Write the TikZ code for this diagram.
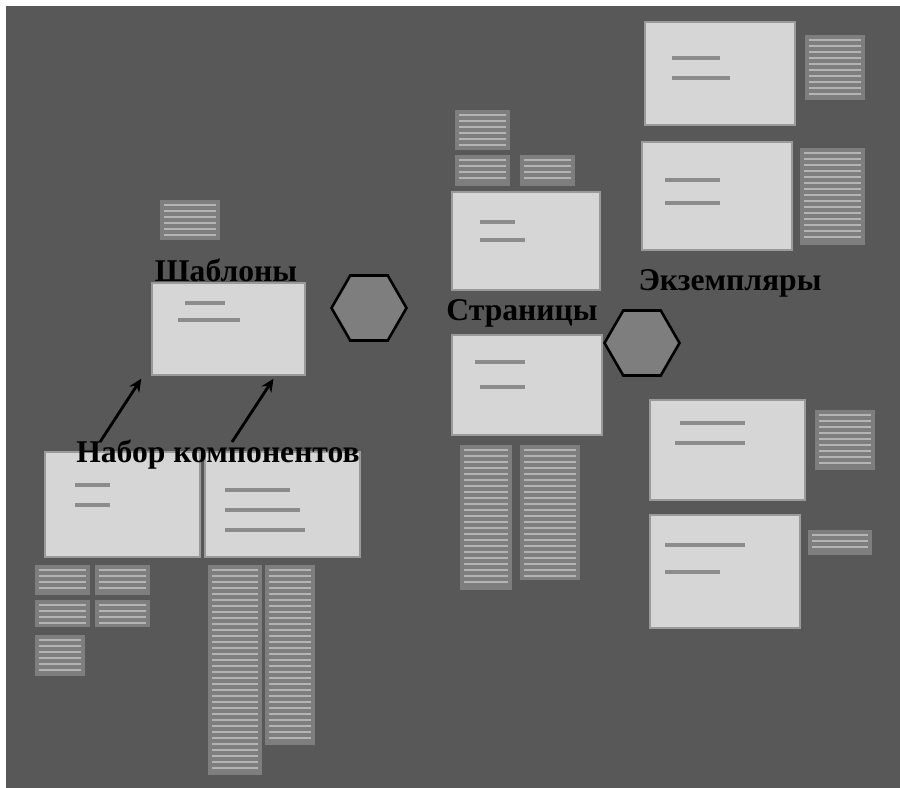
\documentclass[tikz,border=0pt]{standalone}
\usepackage{fontspec}
\setmainfont{Liberation Serif}
\usetikzlibrary{fit,shapes.geometric,arrows.meta,calc}
\definecolor{bgc}{HTML}{585858}
\definecolor{boxc}{HTML}{D6D6D6}
\definecolor{boxedge}{HTML}{9A9A9A}
\definecolor{stripc}{HTML}{7E7E7E}
\definecolor{stripl}{HTML}{B4B4B4}
\definecolor{barc}{HTML}{8C8C8C}
\newcommand\stripeblk[4]{%
  \fill[stripc] (#1,#2) rectangle (#3,#4);
  \pgfmathsetmacro\stA{#2+5}\pgfmathsetmacro\stB{#2+11}\pgfmathsetmacro\stE{#4-3}%
  \foreach \yy in {\stA,\stB,...,\stE} \draw[stripl,line width=2.2pt] (#1+4,\yy) -- (#3-4,\yy);
}
\tikzset{
  bigbox/.style={draw=boxedge,line width=1.2pt,fill=boxc,inner sep=0pt},
  lbl/.style={font=\bfseries\fontsize{27}{30}\selectfont,text=black,inner sep=1pt},
  hexa/.style={regular polygon,regular polygon sides=6,minimum size=2.25cm,draw=black,line width=2.2pt,fill=stripc,inner sep=0pt},
  txtbar/.style={barc,line width=3.5pt},
  uparrow/.style={-{Stealth[length=11pt,width=10pt]},line width=2.4pt,black}
}
\begin{document}
\begin{tikzpicture}[x=0.03cm,y=-0.03cm]
\useasboundingbox (0,0) rectangle (900,788);
\fill[white] (0,0) rectangle (900,788);
\fill[bgc] (6,6) rectangle (900,788);

% ---------- left section ----------
\stripeblk{160}{200}{220}{240}
\node[bigbox,fit={(152,283) (305,375)}] (boxA) {};
\draw[txtbar] (185,303) -- (225,303);
\draw[txtbar] (178,320) -- (240,320);
\node[lbl] (lblA) at (226,270) {Шаблоны};

\node[hexa] (hexA) at (369,308) {};

\node[bigbox,fit={(45,452) (200,557)}] (boxB) {};
\node[bigbox,fit={(205,452) (360,557)}] (boxC) {};
\draw[txtbar] (75,485) -- (110,485);
\draw[txtbar] (75,505) -- (110,505);
\draw[txtbar] (225,490) -- (290,490);
\draw[txtbar] (225,510) -- (300,510);
\draw[txtbar] (225,530) -- (305,530);
\node[lbl] (lblB) at (218,455) {Набор компонентов};

\coordinate (a1s) at (100,442);
\coordinate (a1e) at ($(boxA.south west)+(-10,3)$);
\coordinate (a2s) at (232,442);
\coordinate (a2e) at ($(boxA.south)+(45,3)$);
\draw[uparrow] (a1s) -- (a1e);
\draw[uparrow] (a2s) -- (a2e);

\stripeblk{35}{565}{90}{595}
\stripeblk{95}{565}{150}{595}
\stripeblk{35}{600}{90}{627}
\stripeblk{95}{600}{150}{627}
\stripeblk{35}{635}{85}{676}
\stripeblk{208}{565}{262}{775}
\stripeblk{265}{565}{315}{745}

% ---------- middle section ----------
\stripeblk{455}{110}{510}{150}
\stripeblk{455}{155}{510}{186}
\stripeblk{520}{155}{575}{186}
\node[bigbox,fit={(452,192) (600,290)}] (boxD) {};
\draw[txtbar] (480,222) -- (515,222);
\draw[txtbar] (480,240) -- (525,240);
\node[lbl] (lblC) at (522,313) {Страницы};
\node[bigbox,fit={(452,335) (602,435)}] (boxE) {};
\draw[txtbar] (475,362) -- (525,362);
\draw[txtbar] (480,387) -- (525,387);
\node[hexa] (hexB) at (642,343) {};
\stripeblk{460}{445}{512}{590}
\stripeblk{520}{445}{580}{580}

% ---------- right section ----------
\node[bigbox,fit={(645,22) (795,125)}] (boxF) {};
\draw[txtbar] (672,58) -- (720,58);
\draw[txtbar] (672,78) -- (730,78);
\stripeblk{805}{35}{865}{100}
\node[bigbox,fit={(642,142) (792,250)}] (boxG) {};
\draw[txtbar] (665,180) -- (720,180);
\draw[txtbar] (665,203) -- (720,203);
\stripeblk{800}{148}{865}{245}
\node[lbl] (lblD) at (730,283) {Экземпляры};

\node[bigbox,fit={(650,400) (805,500)}] (boxH) {};
\draw[txtbar] (680,423) -- (745,423);
\draw[txtbar] (675,443) -- (745,443);
\stripeblk{815}{410}{875}{470}
\node[bigbox,fit={(650,515) (800,628)}] (boxI) {};
\draw[txtbar] (665,545) -- (745,545);
\draw[txtbar] (665,572) -- (720,572);
\stripeblk{808}{530}{872}{555}
\end{tikzpicture}
\end{document}
